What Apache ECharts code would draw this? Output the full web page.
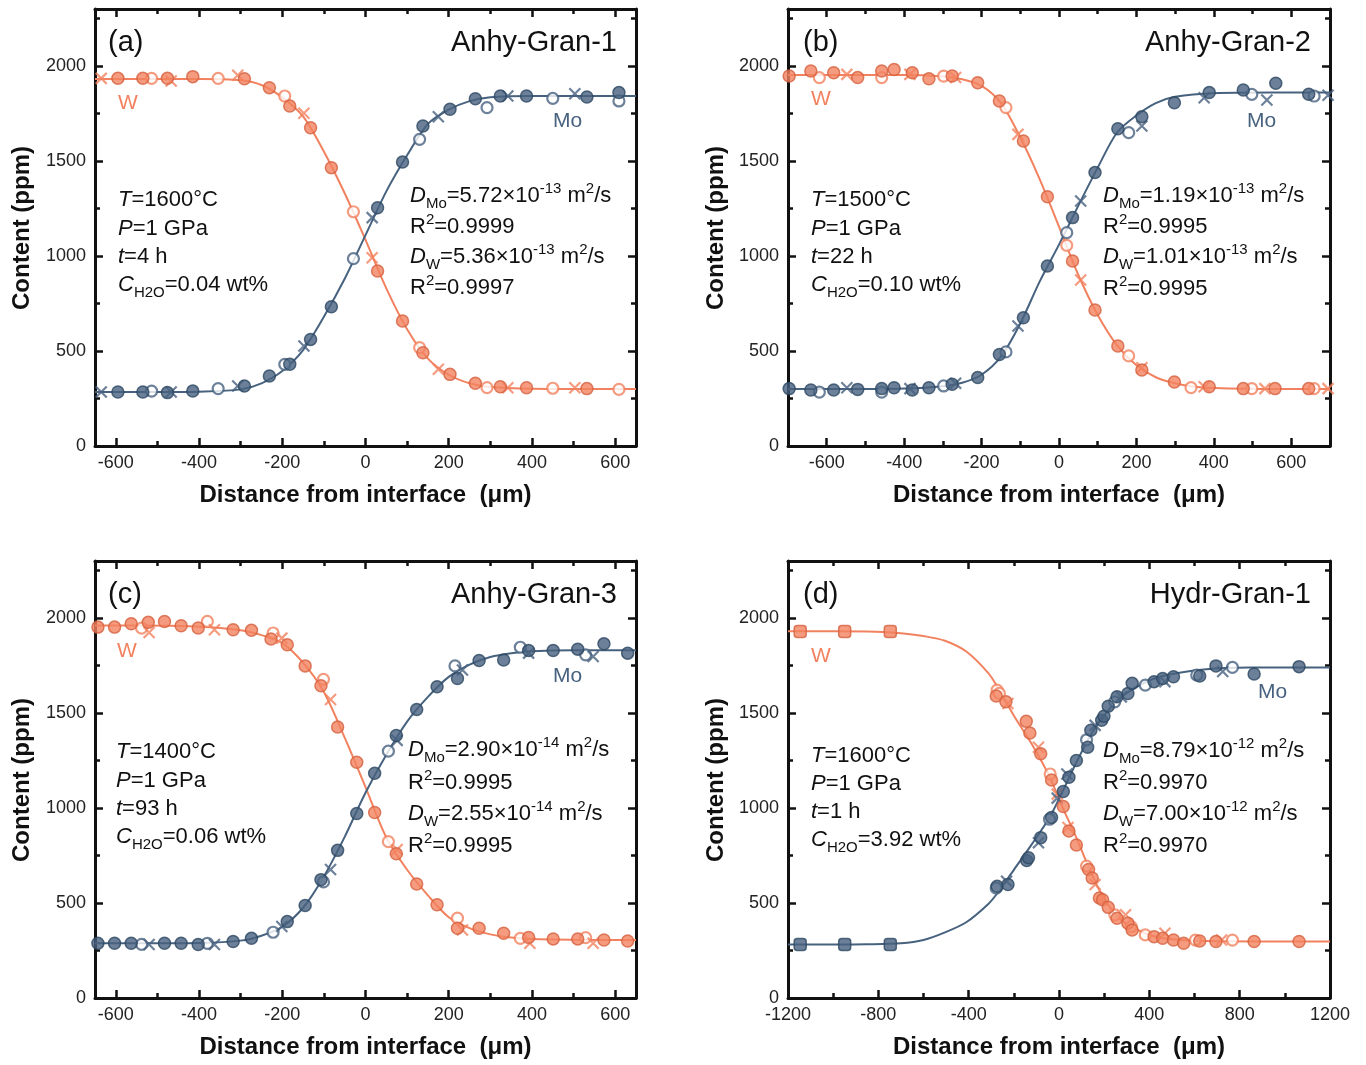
<!DOCTYPE html>
<html><head><meta charset="utf-8">
<script src="https://cdn.jsdelivr.net/npm/echarts@6/dist/echarts.min.js"></script>
<style>html,body{margin:0;padding:0;background:#fff}#c{width:1366px;height:1065px}</style>
</head><body><div id="c"></div><script>
// ---------- tick values ----------
const X_TICKS_ABC = [-600,-400,-200,0,200,400,600];
const X_MINOR_ABC = [-500,-300,-100,100,300,500];
const X_TICKS_D = [-1200,-800,-400,0,400,800,1200];
const X_MINOR_D = [-1000,-600,-200,200,600,1000];
const Y_TICKS = [0,500,1000,1500,2000];
const Y_MINOR = [250,750,1250,1750,2250];

// ---------- panel (a) ----------
const A_W_FILL = [[-595,1935],[-535,1935],[-476,1935],[-415,1944],[-291,1933],[-231,1886],[-182,1789],[-132,1675],[-82,1465],[29,921],[89,658],[138,491],[203,377],[264,330],[324,312],[387,307],[532,302]];
const A_W_OPEN = [[-514,1935],[-354,1935],[-194,1842],[-29,1233],[130,518],[292,307],[450,304],[609,298]];
const A_W_CROSS = [[-635,1935],[-467,1921],[-307,1951],[-148,1751],[16,991],[175,404],[342,307],[503,307]];
const A_MO_FILL = [[-595,284],[-535,284],[-476,281],[-415,289],[-291,316],[-231,368],[-182,430],[-132,561],[-82,733],[29,1254],[89,1495],[138,1684],[203,1772],[264,1828],[324,1842],[387,1842],[532,1837],[609,1860]];
const A_MO_OPEN = [[-514,289],[-354,302],[-194,430],[-29,986],[130,1614],[292,1781],[450,1830],[609,1816]];
const A_MO_CROSS = [[-635,284],[-467,284],[-307,316],[-148,526],[16,1202],[175,1733],[342,1842],[503,1854]];
const A_W_FIT = [[-650,1932],[-500,1932],[-400,1932],[-300,1925],[-250,1900],[-200,1835],[-150,1735],[-100,1550],[-50,1330],[0,1085],[50,830],[100,615],[150,460],[200,375],[250,330],[300,310],[400,301],[500,300],[650,300]];
const A_MO_FIT = [[-650,284],[-500,284],[-400,286],[-300,298],[-250,330],[-200,395],[-150,505],[-100,680],[-50,880],[0,1110],[50,1340],[100,1530],[150,1695],[200,1770],[250,1815],[300,1835],[400,1842],[500,1842],[650,1842]];

// ---------- panel (b) ----------
const B_W_FILL = [[-697,1947],[-641,1974],[-582,1965],[-520,1939],[-458,1974],[-426,1982],[-379,1965],[-336,1933],[-276,1947],[-210,1912],[-154,1816],[-92,1605],[-30,1312],[35,974],[93,716],[152,526],[214,400],[298,337],[388,312],[476,302],[558,302],[645,302]];
const B_W_OPEN = [[-619,1939],[-458,1939],[-298,1947],[-137,1781],[20,1056],[180,474],[341,307],[498,302],[659,302]];
const B_W_CROSS = [[-548,1956],[-385,1956],[-267,1939],[-106,1640],[56,874],[214,412],[375,312],[532,302],[695,302]];
const B_MO_FILL = [[-697,302],[-641,295],[-582,295],[-520,298],[-458,302],[-426,307],[-379,295],[-336,307],[-276,325],[-210,360],[-154,482],[-92,675],[-30,947],[35,1202],[93,1439],[152,1670],[214,1733],[298,1807],[388,1860],[476,1874],[560,1909],[645,1851]];
const B_MO_OPEN = [[-619,284],[-458,284],[-298,316],[-137,495],[20,1123],[180,1649],[498,1851],[659,1842]];
const B_MO_CROSS = [[-548,307],[-385,302],[-267,330],[-106,632],[56,1289],[214,1684],[375,1833],[537,1821],[695,1846]];
const B_W_FIT = [[-700,1952],[-550,1952],[-400,1952],[-300,1945],[-250,1930],[-200,1895],[-150,1805],[-100,1625],[-50,1405],[0,1155],[50,900],[100,690],[150,530],[200,425],[250,362],[300,330],[350,312],[400,305],[550,300],[700,300]];
const B_MO_FIT = [[-700,300],[-550,300],[-400,303],[-300,315],[-250,333],[-200,375],[-150,470],[-100,645],[-50,865],[0,1060],[50,1265],[100,1465],[150,1650],[200,1740],[250,1805],[300,1838],[400,1857],[550,1860],[700,1860]];

// ---------- panel (c) ----------
const C_W_FILL = [[-643,1952],[-603,1952],[-563,1970],[-522,1977],[-483,1982],[-443,1959],[-402,1947],[-318,1938],[-274,1935],[-227,1889],[-188,1859],[-145,1748],[-107,1643],[-67,1426],[-21,1241],[22,976],[74,759],[123,600],[172,491],[221,367],[273,367],[332,341],[392,318],[451,311],[510,311],[573,305],[630,300]];
const C_W_OPEN = [[-538,1947],[-380,1982],[-222,1921],[-101,1677],[55,823],[221,420],[372,314],[529,318]];
const C_W_CROSS = [[-520,1924],[-363,1938],[-201,1894],[-84,1571],[76,782],[233,358],[395,288],[547,288]];
const C_MO_FILL = [[-643,288],[-603,288],[-563,288],[-483,288],[-443,288],[-402,282],[-318,297],[-274,314],[-188,402],[-145,487],[-107,623],[-67,777],[-21,971],[22,1183],[74,1382],[123,1518],[172,1638],[221,1682],[273,1776],[332,1779],[392,1829],[451,1829],[510,1836],[573,1864],[630,1815]];
const C_MO_OPEN = [[-538,282],[-380,288],[-222,346],[-101,611],[55,1299],[215,1748],[372,1846],[529,1806]];
const C_MO_CROSS = [[-520,282],[-363,282],[-201,376],[-84,676],[76,1356],[233,1726],[392,1815],[547,1797]];
const C_W_FIT = [[-650,1960],[-550,1960],[-450,1958],[-350,1948],[-300,1935],[-250,1910],[-200,1868],[-150,1765],[-100,1610],[-50,1370],[0,1110],[50,845],[100,675],[150,540],[200,425],[250,368],[300,335],[350,318],[400,310],[500,306],[650,305]];
const C_MO_FIT = [[-650,288],[-550,288],[-400,290],[-300,302],[-250,328],[-200,375],[-150,475],[-100,640],[-50,848],[0,1080],[50,1280],[100,1455],[150,1585],[200,1690],[250,1755],[300,1795],[350,1815],[400,1825],[500,1830],[650,1830]];

// ---------- panel (d) ----------
const D_W_SQ = [[-1146,1929],[-949,1929],[-747,1929]];
const D_MO_SQ = [[-1146,282],[-949,282],[-747,282]];
const D_W_FILL = [[-278,1589],[-235,1559],[-145,1456],[-129,1395],[-81,1285],[-33,1147],[19,1008],[44,879],[77,805],[131,676],[147,632],[179,526],[193,517],[218,477],[257,420],[305,394],[324,358],[421,323],[459,314],[507,305],[552,288],[623,300],[695,297],[864,297],[1063,297]];
const D_W_OPEN = [[-274,1620],[-264,1603],[-39,1179],[122,694],[247,438],[320,376],[382,332],[604,305],[768,305]];
const D_W_CROSS = [[-226,1550],[-91,1320],[-8,1073],[40,897],[160,597],[295,438],[469,341],[720,305]];
const D_MO_FILL = [[-274,588],[-226,597],[-143,724],[-135,738],[-81,844],[-33,950],[19,1087],[44,1162],[77,1250],[127,1320],[141,1409],[189,1462],[199,1483],[218,1536],[257,1585],[305,1603],[324,1656],[421,1665],[459,1682],[507,1691],[623,1695],[695,1748],[864,1705],[1063,1744]];
const D_MO_OPEN = [[-278,579],[-42,941],[122,1359],[247,1559],[382,1647],[610,1700],[768,1740]];
const D_MO_CROSS = [[-232,614],[-91,817],[-8,1052],[35,1179],[160,1435],[276,1585],[469,1665],[725,1718]];
const D_W_FIT = [[-1200,1930],[-1000,1930],[-850,1929],[-700,1920],[-600,1905],[-505,1880],[-409,1822],[-313,1710],[-274,1640],[-197,1480],[-120,1335],[-42,1165],[15,1005],[73,855],[131,690],[189,545],[266,420],[363,350],[459,315],[652,300],[900,298],[1200,298]];
const D_MO_FIT = [[-1200,282],[-1000,282],[-850,283],[-700,288],[-600,305],[-505,345],[-409,400],[-313,495],[-274,550],[-197,680],[-120,810],[-42,950],[15,1085],[73,1230],[131,1365],[189,1470],[266,1575],[363,1650],[459,1695],[652,1730],[845,1739],[1200,1740]];

// ---------- styles ----------
const W_COLOR = '#F2825F', W_EDGE = '#D5603E';
const MO_COLOR = '#47627F', MO_EDGE = '#2D4762';
const FONT = '"Liberation Sans", Arial, Helvetica, sans-serif';
const CROSS = 'path://M0,0L10,10M10,0L0,10';
const AX = '#111';

const panels = [
  {grid:{left:95, top:9, width:541, height:437}, xr:[-650,650], xt:X_TICKS_ABC, xm:X_MINOR_ABC,
   w:{fill:A_W_FILL, open:A_W_OPEN, cross:A_W_CROSS, fit:A_W_FIT}, mo:{fill:A_MO_FILL, open:A_MO_OPEN, cross:A_MO_CROSS, fit:A_MO_FIT}},
  {grid:{left:788, top:9, width:542, height:437}, xr:[-700,700], xt:X_TICKS_ABC, xm:X_MINOR_ABC,
   w:{fill:B_W_FILL, open:B_W_OPEN, cross:B_W_CROSS, fit:B_W_FIT}, mo:{fill:B_MO_FILL, open:B_MO_OPEN, cross:B_MO_CROSS, fit:B_MO_FIT}},
  {grid:{left:95, top:561, width:541, height:437}, xr:[-650,650], xt:X_TICKS_ABC, xm:X_MINOR_ABC,
   w:{fill:C_W_FILL, open:C_W_OPEN, cross:C_W_CROSS, fit:C_W_FIT}, mo:{fill:C_MO_FILL, open:C_MO_OPEN, cross:C_MO_CROSS, fit:C_MO_FIT}},
  {grid:{left:788, top:561, width:542, height:437}, xr:[-1200,1200], xt:X_TICKS_D, xm:X_MINOR_D,
   w:{fill:D_W_FILL, open:D_W_OPEN, cross:D_W_CROSS, fit:D_W_FIT, sq:D_W_SQ}, mo:{fill:D_MO_FILL, open:D_MO_OPEN, cross:D_MO_CROSS, fit:D_MO_FIT, sq:D_MO_SQ}}
];

const grids = [], xAxes = [], yAxes = [], series = [];
function axisSet(dim, gi, min, max, major, minor) {
  const posA = dim === 'x' ? 'bottom' : 'left';
  const posB = dim === 'x' ? 'top' : 'right';
  const base = {gridIndex: gi, type: 'value', min: min, max: max, splitLine: {show: false}, silent: true};
  const line = {show: true, onZero: false, lineStyle: {color: AX, width: 3}};
  const noLine = {show: false, onZero: false};
  const majT = {show: true, inside: true, length: 8, lineStyle: {color: AX, width: 2.5}, customValues: major};
  const minT = {show: true, inside: true, length: 5, lineStyle: {color: AX, width: 2.5}, customValues: minor};
  const lab = {show: true, customValues: major, margin: dim === 'x' ? 8 : 9, fontSize: 18, fontFamily: FONT, color: '#222',
    formatter: function (v) { return String(v); }};
  return [
    Object.assign({}, base, {position: posA, axisLine: line, axisTick: majT, axisLabel: lab}),
    Object.assign({}, base, {position: posA, axisLine: noLine, axisTick: minT, axisLabel: {show: false}}),
    Object.assign({}, base, {position: posB, axisLine: line, axisTick: majT, axisLabel: {show: false}}),
    Object.assign({}, base, {position: posB, axisLine: noLine, axisTick: minT, axisLabel: {show: false}})
  ];
}
function addElement(el, color, edge, ai) {
  series.push({type: 'line', xAxisIndex: ai, yAxisIndex: ai, data: el.fit, smooth: 0.3, symbol: 'none',
    lineStyle: {color: color, width: 2}, z: 2, silent: true});
  if (el.sq) series.push({type: 'scatter', xAxisIndex: ai, yAxisIndex: ai, data: el.sq, symbol: 'roundRect', symbolSize: 12,
    itemStyle: {color: color, borderColor: edge, borderWidth: 1.5}, z: 3, silent: true});
  series.push({type: 'scatter', xAxisIndex: ai, yAxisIndex: ai, data: el.open, symbol: 'circle', symbolSize: 11,
    itemStyle: {color: '#fff', borderColor: color, borderWidth: 2.2}, z: 3, silent: true});
  series.push({type: 'scatter', xAxisIndex: ai, yAxisIndex: ai, data: el.cross, symbol: CROSS, symbolSize: 11,
    itemStyle: {color: 'none', borderColor: color, borderWidth: 2.2}, z: 3, silent: true});
  series.push({type: 'scatter', xAxisIndex: ai, yAxisIndex: ai, data: el.fill, symbol: 'circle', symbolSize: 12,
    itemStyle: {color: color, borderColor: edge, borderWidth: 1.5}, z: 4, silent: true});
}
panels.forEach((p, gi) => {
  grids.push(Object.assign({containLabel: false, outerBoundsMode: 'none'}, p.grid));
  xAxes.push(...axisSet('x', gi, p.xr[0], p.xr[1], p.xt, p.xm));
  yAxes.push(...axisSet('y', gi, 0, 2300, Y_TICKS, Y_MINOR));
  const ai = gi * 4;
  addElement(p.w, W_COLOR, W_EDGE, ai);
  addElement(p.mo, MO_COLOR, MO_EDGE, ai);
});

// ---------- text ----------
const RICH = {
  n: {fontSize: 22, fontFamily: FONT, lineHeight: 30, fill: '#111'},
  i: {fontSize: 22, fontFamily: FONT, fontStyle: 'italic', lineHeight: 30, fill: '#111'},
  sup: {fontSize: 15, fontFamily: FONT, lineHeight: 18, verticalAlign: 'top', fill: '#111'},
  sub: {fontSize: 15, fontFamily: FONT, lineHeight: 12, verticalAlign: 'bottom', fill: '#111'}
};
const graphics = [];
function txt(x, y, text, o) {
  graphics.push({type: 'text', x: x, y: y, rotation: o.rot || 0, silent: true, z: 10,
    style: Object.assign({text: text, fill: o.color || '#111', fontSize: o.size || 22, fontFamily: FONT,
      fontWeight: o.bold ? 'bold' : 'normal', align: o.align || 'left', verticalAlign: 'middle'}, o.rich ? {rich: RICH} : {})});
}
const LABELS = [
  {tag: '(a)', name: 'Anhy-Gran-1', T: '1600', t: '4', c: '0.04', dmo: '5.72', emo: '-13', r1: '0.9999', dw: '5.36', ew: '-13', r2: '0.9997'},
  {tag: '(b)', name: 'Anhy-Gran-2', T: '1500', t: '22', c: '0.10', dmo: '1.19', emo: '-13', r1: '0.9995', dw: '1.01', ew: '-13', r2: '0.9995'},
  {tag: '(c)', name: 'Anhy-Gran-3', T: '1400', t: '93', c: '0.06', dmo: '2.90', emo: '-14', r1: '0.9995', dw: '2.55', ew: '-14', r2: '0.9995'},
  {tag: '(d)', name: 'Hydr-Gran-1', T: '1600', t: '1', c: '3.92', dmo: '8.79', emo: '-12', r1: '0.9970', dw: '7.00', ew: '-12', r2: '0.9970'}
];
const POS = [
  {oy: 0, tagX: 108, nameX: 617, wX: 118, wY: 103, moX: 553, moY: 121, lx: 118, ly: [200, 229, 257, 285], rx: 410, ry: [196, 227, 257, 288], cx: 365.5, yX: 22},
  {oy: 0, tagX: 803, nameX: 1311, wX: 811, wY: 99, moX: 1247, moY: 121, lx: 811, ly: [200, 229, 257, 285], rx: 1103, ry: [196, 227, 257, 289], cx: 1059, yX: 716},
  {oy: 552, tagX: 108, nameX: 617, wX: 117, wY: 99, moX: 553, moY: 124, lx: 116, ly: [200, 229, 257, 285], rx: 408, ry: [198, 231, 262, 294], cx: 365.5, yX: 22},
  {oy: 552, tagX: 803, nameX: 1311, wX: 811, wY: 104, moX: 1258, moY: 140, lx: 811, ly: [204, 232, 260, 288], rx: 1103, ry: [199, 231, 262, 294], cx: 1059, yX: 716}
];
LABELS.forEach((L, k) => {
  const P = POS[k], oy = P.oy;
  txt(P.tagX, 43 + oy, L.tag, {size: 29});
  txt(P.nameX, 43 + oy, L.name, {size: 29, align: 'right'});
  txt(P.wX, P.wY + oy, 'W', {size: 21, color: W_COLOR});
  txt(P.moX, P.moY + oy, 'Mo', {size: 21, color: MO_COLOR});
  txt(P.lx, P.ly[0] + oy, '{i|T}{n|=' + L.T + '°C}', {rich: true});
  txt(P.lx, P.ly[1] + oy, '{i|P}{n|=1 GPa}', {rich: true});
  txt(P.lx, P.ly[2] + oy, '{i|t}{n|=' + L.t + ' h}', {rich: true});
  txt(P.lx, P.ly[3] + oy, '{i|C}{sub|H2O}{n|=' + L.c + ' wt%}', {rich: true});
  txt(P.rx, P.ry[0] + oy, '{i|D}{sub|Mo}{n|=' + L.dmo + '×10}{sup|' + L.emo + '}{n| m}{sup|2}{n|/s}', {rich: true});
  txt(P.rx, P.ry[1] + oy, '{n|R}{sup|2}{n|=' + L.r1 + '}', {rich: true});
  txt(P.rx, P.ry[2] + oy, '{i|D}{sub|W}{n|=' + L.dw + '×10}{sup|' + L.ew + '}{n| m}{sup|2}{n|/s}', {rich: true});
  txt(P.rx, P.ry[3] + oy, '{n|R}{sup|2}{n|=' + L.r2 + '}', {rich: true});
  txt(P.cx, 495 + oy, 'Distance from interface  (μm)', {size: 24, bold: true, align: 'center'});
  txt(P.yX, 228 + oy, 'Content (ppm)', {size: 24, bold: true, align: 'center', rot: Math.PI / 2});
});

const chart = echarts.init(document.getElementById('c'), null, {renderer: 'canvas'});
chart.setOption({
  animation: false,
  backgroundColor: '#fff',
  grid: grids,
  xAxis: xAxes,
  yAxis: yAxes,
  series: series,
  graphic: graphics
});
</script></body></html>
